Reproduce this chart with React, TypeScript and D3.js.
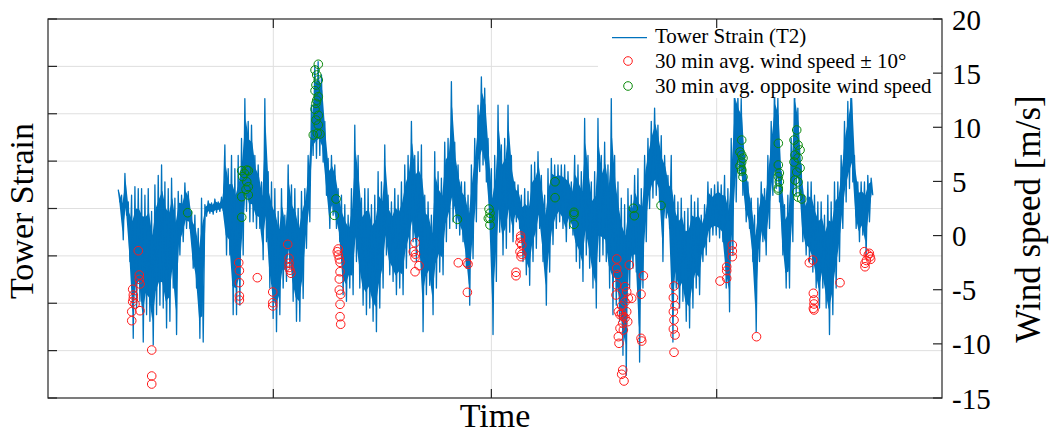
import React from "react";
import * as d3 from "d3";

// ---------- data ----------
// Tower strain (T2): envelope of the dense signal, one high/low pair per 11-hour bin,
// first bin starting 2020-05-10 16:00 UTC (strain in arbitrary units, hidden tick labels)
const strainStartUTC = Date.UTC(2020, 4, 10, 16);
const strainStepHours = 11;
const strainHigh = [
  20, 14, 37, 7, 14, 23, 21, 21, 14, 21, -3, 25, 35, 46, 28, 21, 32, 11, 18, 14,
  27, 18, -3, -7, -21, 11, 4, 8, 6, 10, 7, 12, 67, 42, 56, 42, 56, 74, 116, 92,
  88, 56, 46, 28, 116, 39, 28, 21, -3, 21, -7, 46, 25, 21, 0, 18, 21, 56, 109, 151,
  155, 141, 92, 53, 56, 46, 21, 14, 4, -7, 21, 88, 56, 11, 21, 21, 4, 14, 39, 28,
  67, 14, 7, 21, 14, 28, 46, 56, 92, 56, 60, 67, 14, 7, -7, 60, 39, 32, 70, 74,
  134, 70, 46, 28, 28, 14, 46, 74, 109, 139, 127, 74, 42, 56, 109, 67, 74, 109, 56, 28,
  25, 14, 21, 18, 46, 49, 60, 35, 14, 42, 53, 46, 46, 46, 46, 39, 28, 56, 46, 39,
  95, 56, 28, 39, 95, 56, 70, 46, 116, 56, 28, 11, 4, 21, 14, 35, 42, 21, 56, 74,
  92, 106, 88, 77, 56, 35, 56, 14, 7, 11, -3, 0, 14, 7, 11, -7, 4, 28, 21, 25,
  28, 25, 35, 21, 74, 140, 120, 116, 56, 28, 11, -7, 11, 28, 21, 56, 92, 130, 118, 39,
  4, 14, 74, 135, 106, 46, 14, 28, 28, 14, 7, 7, -7, 14, 7, 28, 28, 56, 92, 113,
  140, 56, 28, 28, 28, 35, 32,
];
const strainLow = [
  7, -33, -7, -56, -137, -105, -98, -141, -112, -119, -144, -112, -102, -105, -126, -119, -84, -133, -49, -35,
  -21, -21, -63, -84, -137, -141, -8, -5, -6, -4, -3, -2, -49, -49, -112, -112, -102, -49, -3, -14,
  -14, -21, -21, -54, -35, -84, -116, -130, -112, -84, -77, -63, -98, -119, -119, -95, -42, -14, 56, 53,
  56, 49, 14, -21, -7, -21, -35, -91, -98, -84, -91, -56, -84, -102, -112, -105, -119, -130, -105, -84,
  -49, -70, -77, -91, -84, -91, -63, -49, -35, -56, -49, -130, -91, -81, -112, -84, -67, -70, -35, -21,
  -14, -21, -28, -35, -63, -102, -53, -14, 39, 46, 28, -14, -133, -77, -25, -49, -42, -25, -35, -14,
  -21, -56, -70, -81, -56, -42, -21, -56, -102, -67, -38, -21, -14, -21, -35, -21, -28, -56, -63, -77,
  -49, -63, -84, -105, -56, -49, -56, -84, -112, -102, -119, -155, -176, -84, -63, -67, -162, -84, -35, 0,
  11, 14, 7, -56, -10, -21, -141, -84, -105, -98, -119, -126, -105, -84, -91, -56, -49, -35, -28, -28,
  -31, -35, -84, -109, -49, 7, 35, 14, -14, -21, -56, -130, -56, -35, -49, -21, 14, 21, 7, -49,
  -84, -84, -35, 14, 14, -35, -49, -56, -67, -84, -105, -84, -105, -133, -112, -84, -56, -21, 7, 21,
  28, -21, -35, -28, -49, -14, 14,
];

// 30 min avg. wind speed ± 10° : [days since 1 May, m/s]
const windAlignedDay = [
  12.42, 12.56, 12.56, 12.66, 11.65, 11.74, 11.65, 11.97, 11.52, 12.66, 11.52, 11.74, 14.27, 14.27, 14.27,
  26.24, 26.33, 26.33, 26.33, 26.33, 28.8, 30.92, 30.92, 30.92,
  32.98, 33.16, 33.16, 33.16, 33.3, 33.43,
  39.94, 39.8, 39.94, 40.08, 40.18, 40.18, 40.08, 40.08, 40.27, 40.18, 40.18, 40.27,
  50.5, 50.26, 50.56, 50.5, 51.05, 50.5,
  56.45, 57.61, 57.79, 57.7, 64.39, 64.39, 65.03, 65.03, 64.94, 65.18, 64.94, 65.18, 65.08,
  78.25, 78.25, 78.38, 78.25, 78.15, 79.39, 79.62, 79.84, 79.39, 80.31, 78.47, 78.93, 79.62, 79.16, 79.76,
  78.7, 79.16, 78.47, 78.56, 79.98, 79.07, 78.93, 79.25, 78.7, 78.93, 79.39, 79.07,
  81.91, 81.59, 81.59, 81.69,
  86.13, 86.04, 86.27, 86.04, 86.13, 86.04, 86.27, 86.13,
  92.46, 93.38, 93.38, 93.38, 94.15, 94.15, 94.15, 97.48,
  104.75, 105.21, 105.3, 105.39, 105.39, 105.3, 105.39, 108.97,
  112.31, 112.86, 113.0, 113.1, 113.19, 112.41, 112.41, 112.6,
];
const windAlignedSpeed = [
  -1.4, -3.64, -4.04, -4.47, -4.96, -5.49, -6.11, -6.32, -7.03, -6.94, -7.86, -5.8, -10.57, -12.97, -13.71,
  -2.51, -3.24, -4.35, -5.58, -5.95, -3.89, -5.21, -6.2, -6.5,
  -0.81, -2.1, -2.56, -2.95, -3.2, -3.48,
  -1.24, -1.49, -1.79, -2.16, -2.47, -3.34, -4.01, -5.03, -5.42, -6.35, -7.49, -8.19,
  -0.66, -1.49, -1.73, -2.04, -2.78, -3.34,
  -2.51, -2.51, -2.65, -5.24, -3.39, -3.71, -0.04, -0.25, -0.62, -0.87, -1.49, -1.73, -1.95,
  -2.16, -3.02, -3.58, -4.57, -5.49, -4.72, -5.18, -5.79, -6.11, -5.79, -7.03, -7.18, -7.03, -7.49, -7.95,
  -8.56, -8.72, -9.34, -9.95, -2.72, -12.41, -12.81, -13.43, -7.3, -6.5, -7.6, -8.1,
  -3.71, -5.42, -9.49, -9.74,
  -4.66, -5.74, -6.48, -7.03, -7.8, -8.63, -9.18, -10.78,
  -4.2, -2.88, -3.24, -3.95, -0.87, -1.43, -1.95, -9.34,
  -2.51, -2.26, -5.33, -5.95, -6.32, -6.72, -6.87, -4.35,
  -1.49, -1.79, -1.64, -1.95, -2.19, -2.56, -2.88, -2.3,
];

// 30 min avg. opposite wind speed : [days since 1 May, m/s]
const windOppositeDay = [
  19.22,
  26.65, 26.79, 27.34, 27.56, 27.01, 27.34, 27.56, 27.24, 27.56, 26.65, 26.65,
  37.19, 36.74, 36.97, 37.19, 36.87, 36.74, 37.19, 36.87, 36.74, 37.19, 36.87, 37.19, 36.5, 37.42, 37.05, 36.97,
  39.63, 39.39,
  56.32, 60.68, 60.81, 60.81, 60.81, 60.58,
  69.76, 69.76, 72.37, 72.37, 72.37,
  80.53, 80.67, 84.34,
  95.44, 95.21, 95.44, 95.62, 95.44, 95.21, 95.44, 95.62, 95.44,
  100.48, 100.48, 100.62, 100.48, 100.62, 100.48, 100.48,
  103.01, 102.64, 103.19, 103.47, 102.78, 103.19, 102.64, 103.47, 103.01, 102.78, 103.19, 103.01, 103.19, 103.7,
];
const windOppositeSpeed = [
  2.11,
  5.99, 5.44, 6.05, 5.99, 5.75, 4.97, 4.51, 4.27, 3.75, 3.59, 1.69,
  15.82, 15.29, 14.83, 14.37, 13.9, 13.38, 12.82, 12.21, 11.66, 11.1, 10.67, 10.21, 9.29, 9.38, 9.44, 12.5,
  3.38, 1.87,
  1.5, 2.45, 2.06, 1.59, 0.98, 1.59,
  4.97, 3.5, 2.15, 1.96, 1.04,
  2.52, 1.83, 2.78,
  8.82, 7.72, 7.44, 7.16, 6.79, 6.42, 5.96, 5.41, 6.1,
  8.52, 6.52, 5.78, 5.44, 4.97, 4.39, 4.21,
  9.75, 8.82, 8.36, 7.9, 7.44, 7.16, 6.79, 6.24, 5.87, 5.13, 4.95, 4.02, 3.56, 3.38,
];

const strainTicks = [-200, -150, -100, -50, 0, 50, 100, 150, 200];
const windTicks = [-15, -10, -5, 0, 5, 10, 15, 20];
const legendLabels = [
  "Tower Strain (T2)",
  "30 min avg. wind speed \u00b1 10\u00b0",
  "30 min avg. opposite wind speed",
];

// ---------- layout / style ----------
const W = 1052;
const H = 435;
const M = { left: 48, right: 942, top: 19, bottom: 398 };
const FONT = "Liberation Serif";
const BLUE = "#0072BD";
const RED = "#ff1a1a";
const GREEN = "#0a8a0a";
const AXIS = "#262626";
const GRID = "#dfdfdf";
const DAY = 86400000;
const MAY1 = Date.UTC(2020, 4, 1);

type Bin = { t: Date; hi: number; lo: number };

export default function App() {
  const x = d3
    .scaleUtc()
    .domain([new Date(MAY1), new Date(Date.UTC(2020, 8, 1))])
    .range([M.left, M.right]);
  const yL = d3.scaleLinear().domain([-200, 200]).range([M.bottom, M.top]);
  const yR = d3.scaleLinear().domain([-15, 20]).range([M.bottom, M.top]);
  const xTicks = d3.utcMonth.range(new Date(Date.UTC(2020, 5, 1)), new Date(Date.UTC(2020, 8, 1)));

  const step = strainStepHours * 3600000;
  const bins: Bin[] = strainHigh.map((hi, i) => ({
    t: new Date(strainStartUTC + i * step),
    hi,
    lo: strainLow[i],
  }));
  const pts: [Date, number][] = [];
  bins.forEach((b) => {
    pts.push([b.t, b.hi]);
    pts.push([new Date(b.t.getTime() + step / 2), b.lo]);
  });
  const line = d3
    .line<[Date, number]>()
    .x((d) => x(d[0]))
    .y((d) => yL(d[1]));
  // body of the dense signal between its per-bin extremes
  const body = d3
    .area<Bin>()
    .x((d) => x(d.t) + 0.8)
    .y0((d) => yL(d.lo * 0.82 + d.hi * 0.18))
    .y1((d) => yL(d.hi * 0.82 + d.lo * 0.18));

  const dayDate = (d: number) => new Date(MAY1 + d * DAY);
  const TL = 9;

  return (
    <svg
      width={W}
      height={H}
      style={{ position: "absolute", left: 0, top: 0, background: "#fff" }}
    >
      {/* grid */}
      {strainTicks.slice(1, -1).map((t) => (
        <line key={"gy" + t} x1={M.left} x2={M.right} y1={yL(t)} y2={yL(t)} stroke={GRID} strokeWidth={1} />
      ))}
      {xTicks.map((t) => (
        <line key={"gx" + t.getTime()} x1={x(t)} x2={x(t)} y1={M.top} y2={M.bottom} stroke={GRID} strokeWidth={1} />
      ))}

      {/* strain line */}
      <path d={body(bins) || ""} fill={BLUE} stroke="none" />
      <path d={line(pts) || ""} fill="none" stroke={BLUE} strokeWidth={1.3} strokeLinejoin="round" />

      {/* wind markers */}
      {windAlignedDay.map((d, i) => (
        <circle key={"r" + i} cx={x(dayDate(d))} cy={yR(windAlignedSpeed[i])} r={4.3} fill="none" stroke={RED} strokeWidth={1} />
      ))}
      {windOppositeDay.map((d, i) => (
        <circle key={"g" + i} cx={x(dayDate(d))} cy={yR(windOppositeSpeed[i])} r={4.3} fill="none" stroke={GREEN} strokeWidth={1} />
      ))}

      {/* legend */}
      <rect x={598} y={M.top + 1} width={M.right - 599} height={78} fill="#fff" />
      <line x1={612} x2={647} y1={37.7} y2={37.7} stroke={BLUE} strokeWidth={1.2} />
      <circle cx={628} cy={61} r={4.3} fill="none" stroke={RED} strokeWidth={1} />
      <circle cx={628} cy={86} r={4.3} fill="none" stroke={GREEN} strokeWidth={1} />
      {legendLabels.map((s, i) => (
        <text key={s} x={655} y={42.7 + i * 25} fontSize={21} fontFamily={FONT} fill="#000">
          {s}
        </text>
      ))}

      {/* axes box */}
      <rect x={M.left} y={M.top} width={M.right - M.left} height={M.bottom - M.top} fill="none" stroke={AXIS} strokeWidth={1.2} />
      {strainTicks.map((t) => (
        <line key={"lt" + t} x1={M.left} x2={M.left + TL} y1={yL(t)} y2={yL(t)} stroke={AXIS} strokeWidth={1.2} />
      ))}
      {windTicks.map((t) => (
        <line key={"rt" + t} x1={M.right - TL} x2={M.right} y1={yR(t)} y2={yR(t)} stroke={AXIS} strokeWidth={1.2} />
      ))}
      {xTicks.map((t) => (
        <g key={"xt" + t.getTime()}>
          <line x1={x(t)} x2={x(t)} y1={M.bottom} y2={M.bottom - TL} stroke={AXIS} strokeWidth={1.2} />
          <line x1={x(t)} x2={x(t)} y1={M.top} y2={M.top + TL} stroke={AXIS} strokeWidth={1.2} />
        </g>
      ))}

      {/* right tick labels */}
      {windTicks.map((t) => (
        <text key={"rl" + t} x={952} y={yR(t) + 10.5} fontSize={29} fontFamily={FONT} fill="#000">
          {String(t)}
        </text>
      ))}

      {/* axis labels */}
      <text x={495} y={427} fontSize={34} textAnchor="middle" fontFamily={FONT} fill="#000">
        Time
      </text>
      <text transform="translate(33,211) rotate(-90)" fontSize={34} textAnchor="middle" fontFamily={FONT} fill="#000">
        Tower Strain
      </text>
      <text transform="translate(1040,219) rotate(-90)" fontSize={35} textAnchor="middle" fontFamily={FONT} fill="#000">
        Wind speed [m/s]
      </text>
    </svg>
  );
}
